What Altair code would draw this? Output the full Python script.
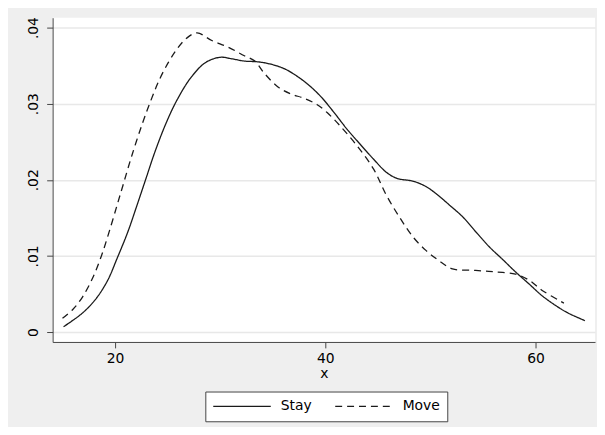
import altair as alt
import pandas as pd

# Kernel density estimates
stay_x = [15.1, 16.9, 18.2, 19.3, 20.2, 21.2, 22.0, 22.9, 23.8, 24.9,
          25.9, 27.2, 28.6, 30.0, 31.1, 32.3, 33.6, 34.8, 36.1, 37.0,
          38.3, 39.6, 40.8, 42.1, 43.3, 44.6, 45.8, 46.8, 48.4, 49.6,
          50.7, 51.8, 53.1, 54.3, 55.6, 56.9, 58.1, 59.4, 60.6, 61.9,
          63.1, 64.7]
stay_y = [0.0007, 0.0025, 0.0044, 0.0068, 0.0097, 0.0131, 0.0163, 0.0200, 0.0237, 0.0276,
          0.0305, 0.0334, 0.0354, 0.0361, 0.0359, 0.0356, 0.0355, 0.0352, 0.0346, 0.0339,
          0.0326, 0.0309, 0.0289, 0.0266, 0.0247, 0.0227, 0.0210, 0.0202, 0.0198, 0.0191,
          0.0180, 0.0167, 0.0151, 0.0132, 0.0112, 0.0095, 0.0079, 0.0063, 0.0048, 0.0035,
          0.0025, 0.0015]

move_x = [15.0, 16.0, 16.9, 17.9, 18.7, 19.4, 20.2, 20.8, 21.6, 22.6, 23.4,
          24.2, 25.1, 25.9, 26.8, 27.8, 29.2, 30.8, 32.3, 33.3, 34.2,
          35.5, 36.7, 38.0, 39.2, 40.2, 41.4, 43.0, 44.6, 45.8, 47.1,
          48.4, 49.6, 50.8, 52.1, 54.3, 56.2, 58.1, 59.4, 60.6, 62.7]
move_y = [0.0018, 0.0030, 0.0046, 0.0072, 0.0100, 0.0130, 0.0167, 0.0195, 0.0232, 0.0274, 0.0304,
          0.0331, 0.0355, 0.0372, 0.0386, 0.0393, 0.0383, 0.0374, 0.0363, 0.0356, 0.0340,
          0.0322, 0.0313, 0.0307, 0.0299, 0.0288, 0.0271, 0.0245, 0.0214, 0.0180, 0.0150,
          0.0124, 0.0107, 0.0094, 0.0083, 0.0081, 0.0079, 0.0076, 0.0068, 0.0055, 0.0038]

groups = ["Stay", "Move"]
x_ticks = [20, 40, 60]
y_ticks = [0, 0.01, 0.02, 0.03, 0.04]

df = pd.concat([
    pd.DataFrame({"x": stay_x, "density": stay_y, "group": "Stay"}),
    pd.DataFrame({"x": move_x, "density": move_y, "group": "Move"}),
], ignore_index=True)

FONT = "DejaVu Sans"

chart = alt.Chart(df).mark_line(
    color="#1a1a1a", strokeWidth=1.3, interpolate="catmull-rom"
).encode(
    x=alt.X("x:Q",
            scale=alt.Scale(domain=[14.06, 65.66], nice=False, zero=False),
            axis=alt.Axis(values=x_ticks, title="x", grid=False, format="d",
                          labelPadding=4, titlePadding=1)),
    y=alt.Y("density:Q",
            scale=alt.Scale(domain=[-0.0013, 0.0413], nice=False, zero=False),
            axis=alt.Axis(values=y_ticks, title=None, grid=True,
                          labelExpr="datum.value == 0 ? '0' : substring(format(datum.value, '.2f'), 1)",
                          labelAngle=270, labelAlign="center", labelBaseline="bottom",
                          labelPadding=6)),
    strokeDash=alt.StrokeDash("group:N",
                              scale=alt.Scale(domain=groups, range=[[1, 0], [7, 5]]),
                              sort=groups,
                              legend=alt.Legend(
                                  title=None, orient="none", legendX=154, legendY=377,
                                  direction="horizontal", symbolType="stroke",
                                  symbolSize=3364, symbolStrokeWidth=1.3,
                                  symbolStrokeColor="#1a1a1a", symbolFillColor="transparent",
                                  clipHeight=16, labelFont=FONT, labelFontSize=14,
                                  labelColor="#000000", labelOffset=9, columnPadding=22,
                                  padding=7, fillColor="#ffffff", strokeColor="#444444")),
).properties(
    width=547, height=327,
    autosize=alt.AutoSizeParams(type="none"),
    padding={"left": 45, "top": 8, "right": 2, "bottom": 84},
    background="#EFEFEF",
).configure_view(
    fill="#ffffff", strokeWidth=0
).configure_axis(
    domainColor="#444444", tickColor="#444444", tickSize=6,
    labelFont=FONT, labelFontSize=14, labelColor="#000000",
    titleFont=FONT, titleFontSize=14, titleFontWeight="normal", titleColor="#000000",
    gridColor="#E8E8E8", gridWidth=1.5,
)

chart.save("out.html", embed_options={"renderer": "svg", "actions": False})
